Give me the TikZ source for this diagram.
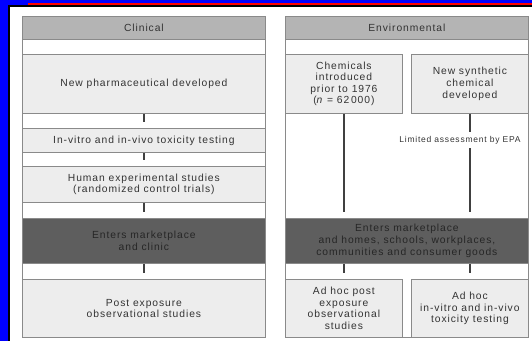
\documentclass[tikz,border=0pt]{standalone}
\usepackage{fontspec}
\setmainfont{Liberation Sans}[LetterSpace=9]
\usetikzlibrary{calc}

\definecolor{headgray}{HTML}{B4B4B4}
\definecolor{lightgray}{HTML}{EDEDED}
\definecolor{darkgray}{HTML}{5E5E5E}
\definecolor{rulegray}{HTML}{8A8A8A}
\definecolor{ink}{HTML}{333333}
\definecolor{darkink}{HTML}{262626}

\begin{document}
\begin{tikzpicture}[x=1pt, y=-1pt, line width=0.8pt,
    every node/.style={font=\fontsize{10.3}{11.6}\selectfont, text=ink, align=center, inner sep=0pt, anchor=north west},
    row/.style={draw=rulegray, fill=lightgray, minimum width=\W},
    half/.style={draw=rulegray, fill=lightgray, minimum width=\H},
    headrow/.style={row, fill=headgray, minimum height=23},
    darkrow/.style={row, fill=darkgray, text=darkink},
    link/.style={draw=black!75, line width=1.3pt},
    tick/.style={link, shorten >=6pt}]
    %---- parameters you can tweak
    \def\W{243}   % width of one column
    \def\H{117}   % width of a half box
    \def\xL{22}   % left column
    \def\xR{285}  % right column
    \def\xRh{411} % second half box on the right

    %---- slide frame
    \useasboundingbox (0,0) rectangle (532,341);
    \fill[blue] (0,0) rectangle (532,341);
    \fill[black] (8,5) rectangle (532,341);
    \fill[white] (10,7) rectangle (532,341);
    \fill[red] (28,3) rectangle (532,5);

    %---- clinical column
    \draw[rulegray, fill=white] (\xL,16) rectangle (\xL+\W,337);
    \node[headrow] (clin) at (\xL,16) {Clinical};
    \node[row, minimum height=59] (pharm) at (\xL,54) {New pharmaceutical developed};
    \node[row, minimum height=24] (vitro) at (\xL,128) {In-vitro and in-vivo toxicity testing};
    \node[row, minimum height=36] (human) at (\xL,166) {Human experimental studies\\(randomized control trials)};
    \node[darkrow, minimum height=45] (mktC) at (\xL,218) {Enters marketplace\\and clinic};
    \node[row, minimum height=58] (post) at (\xL,279) {Post exposure\\observational studies};

    \draw[tick] (pharm) -- (vitro);
    \draw[tick] (vitro) -- (human);
    \draw[tick] (human) -- (mktC);
    \draw[tick] (mktC) -- (post);

    %---- environmental column
    \draw[rulegray, fill=white] (\xR,16) rectangle (\xR+\W,337);
    \node[headrow] (env) at (\xR,16) {Environmental};
    \node[half, minimum height=59] (chem) at (\xR,54) {Chemicals\\introduced\\prior to 1976\\(\textit{n} = 62\,000)};
    \node[half, minimum height=59] (synth) at (\xRh,54) {New synthetic\\chemical\\developed};
    \node[darkrow, minimum height=45] (mktE) at (\xR,218) {Enters marketplace\\and homes, schools, workplaces,\\communities and consumer goods};
    \node[half, minimum height=58] (adpost) at (\xR,279) {Ad hoc post\\exposure\\observational\\studies};
    \node[half, minimum height=58] (adtox) at (\xRh,279) {Ad hoc\\in-vitro and in-vivo\\toxicity testing};

    %---- EPA note breaks the right line
    \node[font=\fontsize{8.5}{9}\selectfont, fill=white, inner xsep=1pt, inner ysep=4pt, anchor=center] (epa) at (460,140) {Limited assessment by EPA};
    \coordinate (epaT) at (synth.south |- epa.north);
    \coordinate (epaB) at (synth.south |- epa.south);

    \draw[tick] (chem) -- (mktE.north -| chem.south);
    \draw[link] (synth) -- (epaT);
    \draw[tick] (epaB) -- (mktE.north -| epaB);
    \draw[tick] (mktE.south -| adpost.north) -- (adpost);
    \draw[tick] (mktE.south -| adtox.north) -- (adtox);
\end{tikzpicture}
\end{document}
